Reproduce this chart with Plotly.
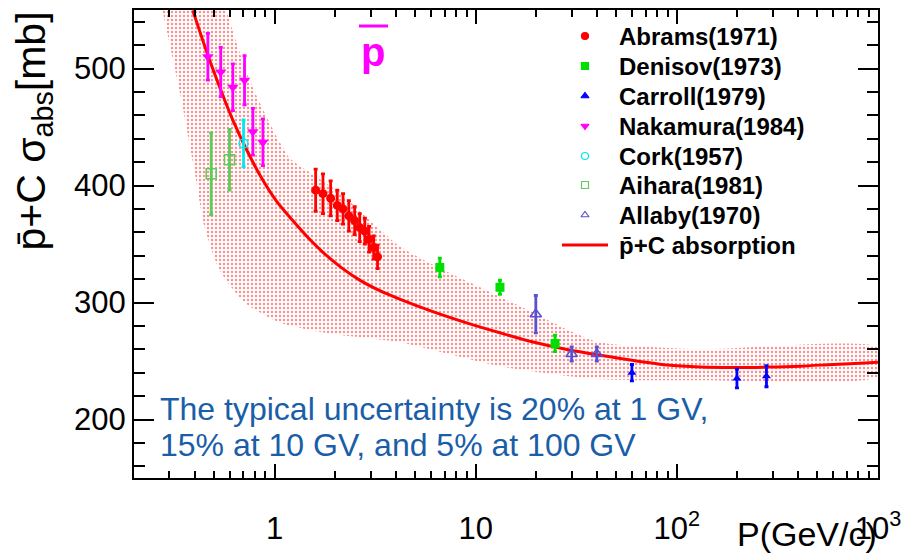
import plotly.graph_objects as go

# ---------------- data ----------------
abrams_p = [1.60, 1.74, 1.90, 2.05, 2.19, 2.34, 2.50, 2.65, 2.81, 2.95, 3.11, 3.25]
abrams_s = [396, 393, 389, 383, 380, 374, 370, 364, 361, 354, 347, 339]
abrams_e = [18, 17, 15, 13, 13, 13, 12, 12, 11, 11, 10, 10]

denisov_p = [6.63, 13.2, 24.8]
denisov_s = [330, 313, 265]
denisov_e = [8, 6, 7]

carroll_p = [59.8, 199, 279]
carroll_s = [240, 235, 237]
carroll_e = [7, 8, 9]

nakamura_p = [0.466, 0.540, 0.620, 0.709, 0.780, 0.875]
nakamura_s = [510, 497, 484, 490, 446, 437]
nakamura_e = [20, 21, 20, 21, 20, 20]

cork_p = [0.701]
cork_s = [436]
cork_e = [20]

aihara_p = [0.484, 0.597]
aihara_s = [410, 422]
aihara_e = [35, 26]

allaby_p = [19.9, 30.0, 40.0]
allaby_s = [290, 256, 256]
allaby_e = [16, 6, 6]

curve_p = [0.392, 0.466, 0.543, 0.620, 0.723, 0.842, 1.02, 1.234, 1.494, 1.74, 2.149, 2.65,
           3.334, 4.19, 6.12, 9.01, 13.2, 19.3, 28.4, 52.3, 89.3, 131, 192, 281, 412, 601, 908, 1000]
curve_s = [549.7, 511.3, 480.6, 455.9, 431.2, 409.5, 386.9, 369.8, 354.0, 342.9, 329.8, 319.1,
           310.1, 302.9, 292.2, 282.6, 274.1, 266.2, 259.8, 252.2, 246.6, 244.9, 244.5, 244.8, 245.6, 247.1, 248.5, 248.9]

band_up_p = [0.575, 0.751, 1.188, 1.6, 2.1, 2.7, 4.19, 6.12, 13.2, 19.3, 28.4, 41.7, 131, 1000]
band_up_s = [549.7, 490, 423.5, 408, 394, 377, 348, 332.3, 305, 291.4, 277, 265.8, 260, 261.6]
band_lo_p = [0.277, 0.344, 0.399, 0.448, 0.532, 0.709, 1.059, 1.88, 4.19, 13.2, 41.7, 131, 1000]
band_lo_s = [549.7, 473, 413.3, 365, 328, 300, 283, 273.5, 266, 245.5, 234.4, 233.6, 237]

legend_labels = ["Abrams(1971)", "Denisov(1973)", "Carroll(1979)", "Nakamura(1984)",
                 "Cork(1957)", "Aihara(1981)", "Allaby(1970)", "p\u0304+C absorption"]

x_tickvals = [1, 10, 100, 1000]
x_ticktext = ["1", "10", "10<sup>2</sup>", "10<sup>3</sup>"]
x_minor = [0.3, 0.4, 0.5, 0.6, 0.7, 0.8, 0.9, 2, 3, 4, 5, 6, 7, 8, 9,
           20, 30, 40, 50, 60, 70, 80, 90, 200, 300, 400, 500, 600, 700, 800, 900]
y_tickvals = [200, 300, 400, 500]

# ---------------- layout geometry ----------------
W, H = 901, 555
ML, MR, MT, MB = 134, 23, 10, 77
PW, PH = W - ML - MR, H - MT - MB
FONT = "Liberation Sans, Arial, Helvetica, sans-serif"


def px(xp):
    return (xp - ML) / PW


def py(yp):
    return (H - MB - yp) / PH


fig = go.Figure()

# uncertainty band
fig.add_trace(go.Scatter(
    x=band_up_p + band_lo_p[::-1], y=band_up_s + band_lo_s[::-1],
    fill="toself", mode="lines", line=dict(width=0, color="rgba(0,0,0,0)", shape="spline", smoothing=0.6),
    fillcolor="rgba(0,0,0,0)",
    fillpattern=dict(shape=".", fgcolor="#ff1818", bgcolor="rgba(0,0,0,0)",
                     size=4, solidity=0.27),
    showlegend=False, hoverinfo="skip"))

# central curve
fig.add_trace(go.Scatter(x=curve_p, y=curve_s, mode="lines",
                         line=dict(color="#ff0000", width=3, shape="spline", smoothing=0.8),
                         showlegend=False))


def data_trace(xv, yv, ev, color, symbol, size, lw=0):
    return go.Scatter(
        x=xv, y=yv, mode="markers",
        marker=dict(color=color, symbol=symbol, size=size, line=dict(color=color, width=lw)),
        error_y=dict(type="data", array=ev, color=color, thickness=2.8, width=2),
        showlegend=False)


fig.add_trace(data_trace(aihara_p, aihara_s, aihara_e, "#5ccc5c", "square-open", 10, 1.5))
fig.add_trace(data_trace(cork_p, cork_s, cork_e, "#00e8f0", "circle-open", 9, 1.5))
fig.add_trace(data_trace(nakamura_p, nakamura_s, nakamura_e, "#ff00ff", "triangle-down", 10))
fig.add_trace(data_trace(abrams_p, abrams_s, abrams_e, "#ff0000", "circle", 9))
fig.add_trace(data_trace(denisov_p, denisov_s, denisov_e, "#00e000", "square", 9))
fig.add_trace(data_trace(allaby_p, allaby_s, allaby_e, "#5a50d0", "triangle-up-open", 10, 1.5))
fig.add_trace(data_trace(carroll_p, carroll_s, carroll_e, "#0000ff", "triangle-up", 8))

# ---------------- manual legend on an overlay axis ----------------
leg_rows = [36, 66, 96, 126, 156, 185, 215, 245]
leg_colors = ["#ff0000", "#00e000", "#0000ff", "#ff00ff", "#00e8f0", "#5ccc5c", "#5a50d0"]
leg_symbols = ["circle", "square", "triangle-up", "triangle-down", "circle-open", "square-open", "triangle-up-open"]
for i in range(7):
    fig.add_trace(go.Scatter(
        x=[px(585)], y=[py(leg_rows[i])], xaxis="x2", yaxis="y2", mode="markers",
        marker=dict(color=leg_colors[i], symbol=leg_symbols[i], size=7,
                    line=dict(color=leg_colors[i], width=1.2)),
        showlegend=False, hoverinfo="skip"))
for i, lab in enumerate(legend_labels):
    fig.add_annotation(x=px(617), y=py(leg_rows[i]), xref="paper", yref="paper",
                       text="<b>" + lab + "</b>", showarrow=False, xanchor="left", yanchor="middle",
                       font=dict(family=FONT, size=24, color="black"))
fig.add_shape(type="line", xref="paper", yref="paper", x0=px(562), x1=px(608),
              y0=py(leg_rows[7]), y1=py(leg_rows[7]), line=dict(color="#ff0000", width=3))

# big pbar label
fig.add_annotation(x=px(373), y=py(52), xref="paper", yref="paper", text="<b>p</b>", showarrow=False,
                   xanchor="center", yanchor="middle", font=dict(family=FONT, size=40, color="#ff00ff"))
fig.add_shape(type="line", xref="paper", yref="paper", x0=px(359), x1=px(388), y0=py(26), y1=py(26),
              line=dict(color="#ff00ff", width=3))

# uncertainty text
fig.add_annotation(x=px(158), y=py(409), xref="paper", yref="paper",
                   text="The typical uncertainty is 20% at 1 GV,", showarrow=False,
                   xanchor="left", yanchor="middle", font=dict(family=FONT, size=32, color="#1a5ea8"))
fig.add_annotation(x=px(158), y=py(445), xref="paper", yref="paper",
                   text="15% at 10 GV, and 5% at 100 GV", showarrow=False,
                   xanchor="left", yanchor="middle", font=dict(family=FONT, size=32, color="#1a5ea8"))

# axis titles
fig.add_annotation(x=px(879), y=py(534), xref="paper", yref="paper", text="P(GeV/c)", showarrow=False,
                   xanchor="right", yanchor="middle", font=dict(family=FONT, size=34, color="black"))
fig.add_annotation(x=px(33), y=py(10), xref="paper", yref="paper",
                   text="p\u0304+C \u03c3<sub>abs</sub>[mb]", textangle=-90, showarrow=False,
                   xanchor="center", yanchor="top", font=dict(family=FONT, size=41, color="black"))

fig.update_layout(
    width=W, height=H, margin=dict(l=ML, r=MR, t=MT, b=MB, pad=0, autoexpand=False),
    paper_bgcolor="white", plot_bgcolor="white", showlegend=False,
    xaxis=dict(type="log", range=[-0.69897, 3.0002], showgrid=False, zeroline=False,
               automargin=False,
               showline=True, linecolor="black", linewidth=2, mirror="ticks",
               ticks="inside", ticklen=14, tickwidth=2, tickcolor="black",
               tickmode="array", tickvals=x_tickvals, ticktext=x_ticktext,
               tickfont=dict(family=FONT, size=31, color="black"), ticklabelstandoff=22,
               ticklabeloverflow="allow",
               minor=dict(ticks="inside", ticklen=7, tickwidth=2, tickcolor="black",
                          tickmode="array", tickvals=x_minor, showgrid=False)),
    yaxis=dict(range=[150, 550], showgrid=False, zeroline=False, automargin=False,
               showline=True, linecolor="black", linewidth=2, mirror="ticks",
               ticks="inside", ticklen=20, tickwidth=2, tickcolor="black",
               tickmode="array", tickvals=y_tickvals,
               tickfont=dict(family=FONT, size=31, color="black"), ticklabelstandoff=0,
               minor=dict(ticks="inside", ticklen=11, tickwidth=2, tickcolor="black",
                          dtick=20, tick0=0, showgrid=False)),
    xaxis2=dict(overlaying="x", range=[0, 1], visible=False, fixedrange=True),
    yaxis2=dict(overlaying="y", range=[0, 1], visible=False, fixedrange=True),
)

fig.write_html("out.html")
